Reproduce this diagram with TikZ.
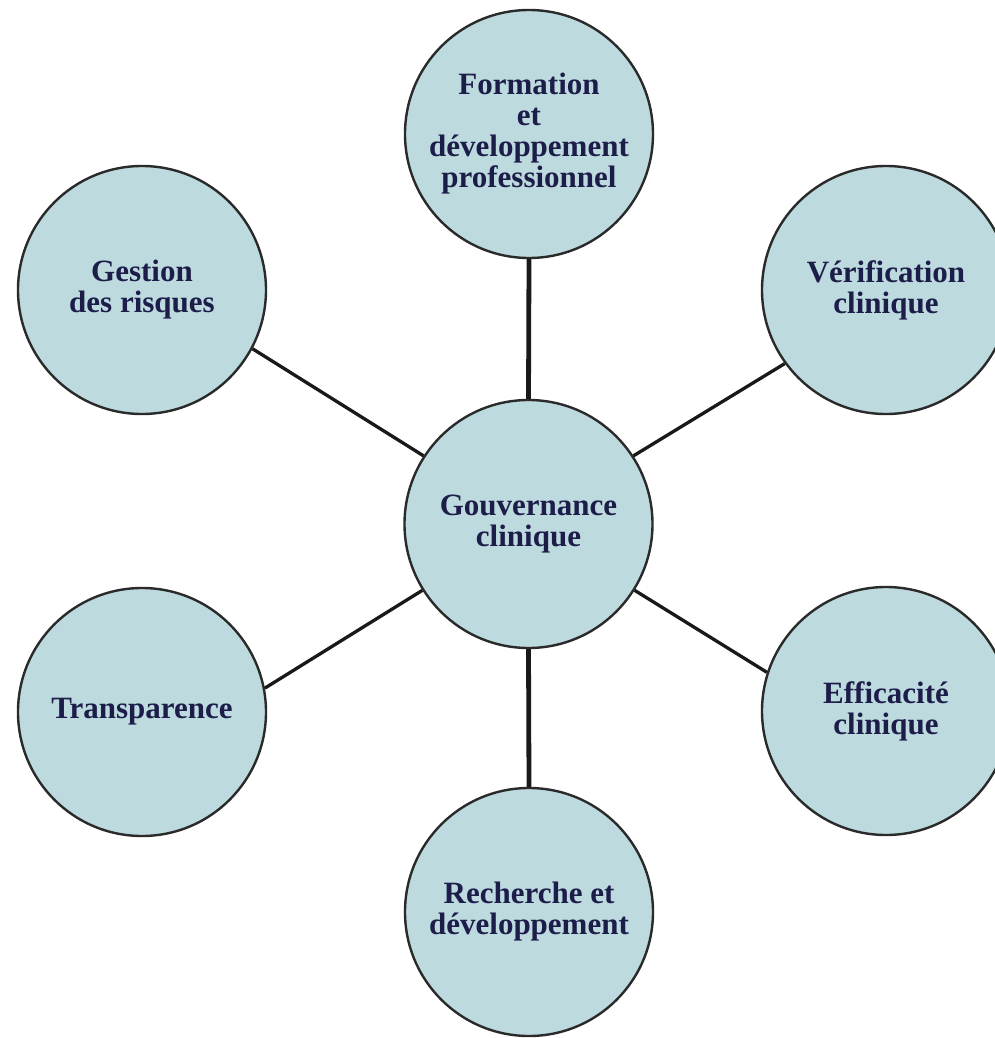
\documentclass[tikz,border=0pt]{standalone}
\usepackage{fontspec}
\setmainfont{Liberation Serif}
\definecolor{bubblefill}{HTML}{BDDADF}
\definecolor{bubbleline}{HTML}{2A2A2A}
\definecolor{labelink}{HTML}{1D1D4A}
\tikzset{
  bubble/.style={circle, draw=bubbleline, line width=2.4pt, fill=bubblefill,
    minimum size=248pt, inner sep=0pt, align=center, text=labelink,
    font=\fontsize{31pt}{31pt}\selectfont\bfseries},
  spoke/.style={draw=black!90, line width=3.3pt},
  vspoke/.style={draw=black!90, line width=4.8pt}
}
\begin{document}
\begin{tikzpicture}[x=1pt,y=-1pt]
  \useasboundingbox (0,0) rectangle (995,1038);
  \clip (0,0) rectangle (995,1038);
  % hub and the six satellite topics
  \node[bubble] (c) at (528.5,524) {Gouvernance\\clinique};
  \node[bubble] (f) at (529,134) {Formation\\et\\développement\\professionnel};
  \node[bubble] (r) at (529,912) {Recherche et\\développement};
  \node[bubble] (g) at (142,290) {Gestion\\des risques};
  \node[bubble] (v) at (886,290) {Vérification\\clinique};
  \node[bubble] (t) at (142,712) {Transparence};
  \node[bubble] (e) at (886,711) {Efficacité\\clinique};
  % spokes from the hub to each topic
  \draw[vspoke] (c.90) -- (f.270);
  \draw[vspoke] (c.270) -- (r.90);
  \draw[spoke] (c.147) -- (g.-28);
  \draw[spoke] (c.33) -- (v.216);
  \draw[spoke] (c.-32) -- (e.162);
  \draw[spoke] (c.212) -- (t.11);
\end{tikzpicture}
\end{document}
